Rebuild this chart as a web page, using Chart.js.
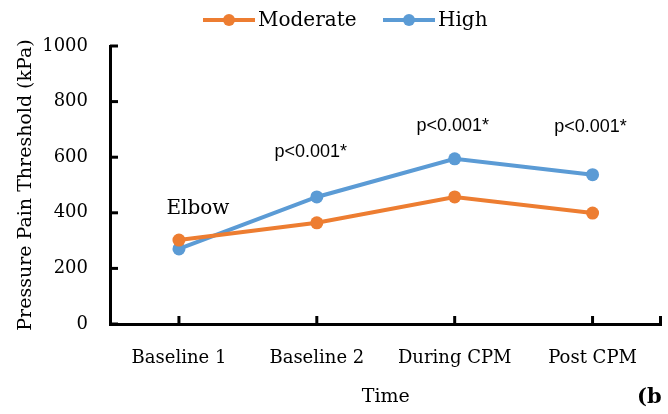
<!DOCTYPE html>
<html>
<head>
<meta charset="utf-8">
<script src="https://cdn.jsdelivr.net/npm/chart.js@4/dist/chart.umd.min.js"></script>
<style>
  html, body { margin: 0; padding: 0; background: #fff; }
  #wrap { width: 668px; height: 414px; }
</style>
</head>
<body>
<div id="wrap"><canvas id="pptChart" width="668" height="414"></canvas></div>
<script>
// Pressure pain threshold at the elbow, per session
const timePoints = ['Baseline 1', 'Baseline 2', 'During CPM', 'Post CPM'];
const moderateValues = [302, 364, 457, 399];
const highValues = [270, 457, 594, 537];
const yTicks = [0, 200, 400, 600, 800, 1000];

// Text notes placed in data space: [category index, value, text]
const notes = [
  [0, 414, 'Elbow'],
  [1, 620, 'p<0.001*'],
  [2, 712, 'p<0.001*'],
  [3, 710, 'p<0.001*']
];

const ORANGE = '#ED7D31';
const BLUE = '#5B9BD5';
const SERIF = '"DejaVu Serif", "Liberation Serif", serif';
const SANS = '"Liberation Sans", Arial, sans-serif';

// Inward tick marks, legend, notes and panel label
const decorations = {
  id: 'decorations',
  afterDraw(chart) {
    const ctx = chart.ctx;
    const x = chart.scales.x;
    const y = chart.scales.y;
    const area = chart.chartArea;
    ctx.save();

    ctx.strokeStyle = '#000';
    ctx.lineWidth = 3;
    yTicks.forEach(v => {
      const py = y.getPixelForValue(v);
      ctx.beginPath();
      ctx.moveTo(area.left, py);
      ctx.lineTo(area.left + 8, py);
      ctx.stroke();
    });
    timePoints.forEach((_, i) => {
      const px = x.getPixelForValue(i);
      ctx.beginPath();
      ctx.moveTo(px, area.bottom);
      ctx.lineTo(px, area.bottom - 8);
      ctx.stroke();
    });
    ctx.beginPath();
    ctx.moveTo(area.right - 1, area.bottom);
    ctx.lineTo(area.right - 1, area.bottom - 8);
    ctx.stroke();

    // legend
    const items = [
      { label: 'Moderate', color: ORANGE, x0: 203 },
      { label: 'High', color: BLUE, x0: 383 }
    ];
    ctx.font = '20px ' + SERIF;
    ctx.textBaseline = 'middle';
    ctx.textAlign = 'left';
    items.forEach(it => {
      ctx.strokeStyle = it.color;
      ctx.lineWidth = 4;
      ctx.beginPath();
      ctx.moveTo(it.x0, 20);
      ctx.lineTo(it.x0 + 52, 20);
      ctx.stroke();
      ctx.fillStyle = it.color;
      ctx.beginPath();
      ctx.arc(it.x0 + 26, 20, 6, 0, Math.PI * 2);
      ctx.fill();
      ctx.fillStyle = '#000';
      ctx.fillText(it.label, it.x0 + 55, 21);
    });

    // notes
    ctx.textAlign = 'center';
    notes.forEach(([i, v, text]) => {
      const px = x.getPixelForValue(i);
      const py = y.getPixelForValue(v);
      if (text === 'Elbow') {
        ctx.font = '20px ' + SERIF;
        ctx.fillText(text, px + 19, py);
      } else {
        ctx.font = '18px ' + SANS;
        ctx.fillText(text, i === 1 ? px - 6 : px - 2, py);
      }
    });

    ctx.font = 'bold 21px ' + SERIF;
    ctx.textAlign = 'left';
    ctx.fillText('(b', 637, 398);
    ctx.restore();
  }
};

new Chart(document.getElementById('pptChart').getContext('2d'), {
  type: 'line',
  data: {
    labels: timePoints,
    datasets: [
      {
        label: 'Moderate',
        data: moderateValues,
        borderColor: ORANGE,
        backgroundColor: ORANGE,
        borderWidth: 4,
        pointRadius: 6.5,
        pointBorderWidth: 0,
        pointHoverRadius: 6.5,
        tension: 0
      },
      {
        label: 'High',
        data: highValues,
        borderColor: BLUE,
        backgroundColor: BLUE,
        borderWidth: 4,
        pointRadius: 6.5,
        pointBorderWidth: 0,
        pointHoverRadius: 6.5,
        tension: 0
      }
    ]
  },
  options: {
    responsive: false,
    animation: false,
    layout: { padding: { top: 46, right: 3, left: 0, bottom: 0 } },
    plugins: {
      legend: { display: false },
      tooltip: { enabled: false }
    },
    scales: {
      x: {
        offset: true,
        grid: { display: false, drawTicks: false },
        border: { display: true, color: '#000', width: 3 },
        ticks: { color: '#000', padding: 24, font: { family: SERIF, size: 18 } },
        title: {
          display: true,
          text: 'Time',
          color: '#000',
          padding: { top: 0, bottom: 6 },
          font: { family: SERIF, size: 19 }
        },
        afterFit(scale) {
          scale.height = 90;
          scale.paddingLeft = 0;
          scale.paddingRight = 0;
        }
      },
      y: {
        min: 0,
        max: 1000,
        grid: { display: false, drawTicks: false },
        border: { display: true, color: '#000', width: 3 },
        ticks: {
          color: '#000',
          padding: 22,
          stepSize: 200,
          font: { family: SERIF, size: 18 },
          callback: v => String(v)
        },
        title: {
          display: true,
          text: 'Pressure Pain Threshold (kPa)',
          color: '#000',
          padding: { top: 15, bottom: 0 },
          font: { family: SERIF, size: 19 }
        },
        afterFit(scale) { scale.width = 110; }
      }
    }
  },
  plugins: [decorations]
});
</script>
</body>
</html>
